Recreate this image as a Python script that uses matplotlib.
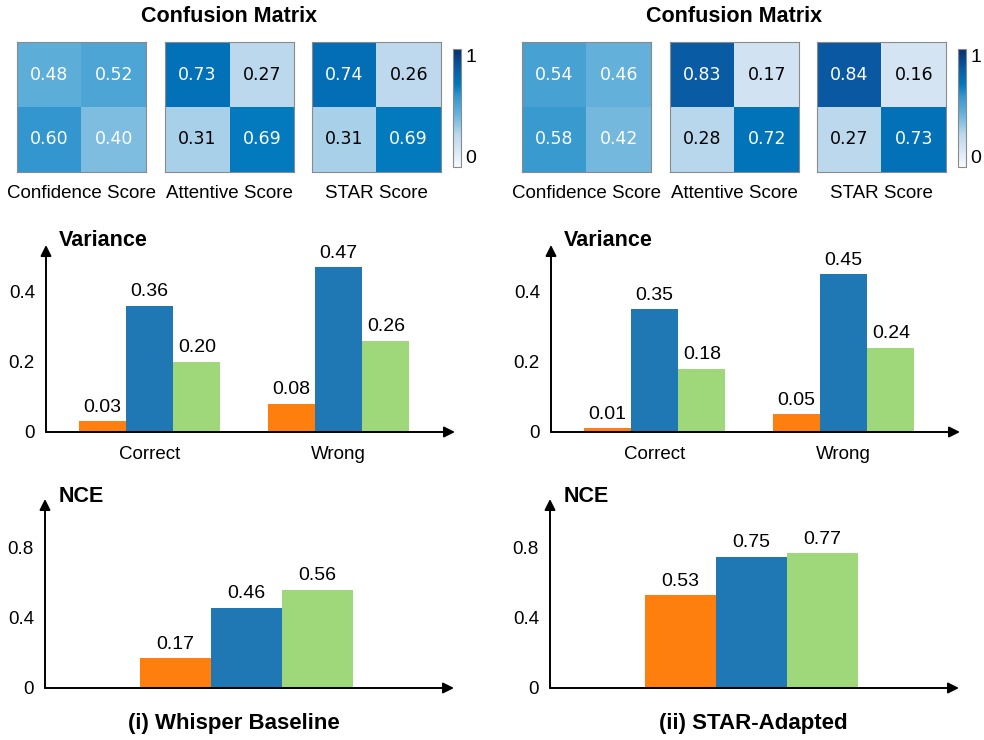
import numpy as np
import matplotlib
matplotlib.use('Agg')
import matplotlib.pyplot as plt
from matplotlib.colors import LinearSegmentedColormap

plt.rcParams['font.family'] = ['Liberation Sans', 'DejaVu Sans']

# ---- data ----
score_names = ['Confidence Score', 'Attentive Score', 'STAR Score']
panel_titles = ['(i) Whisper Baseline', '(ii) STAR-Adapted']

cm_baseline = [
    [[0.48, 0.52], [0.60, 0.40]],
    [[0.73, 0.27], [0.31, 0.69]],
    [[0.74, 0.26], [0.31, 0.69]],
]
cm_adapted = [
    [[0.54, 0.46], [0.58, 0.42]],
    [[0.83, 0.17], [0.28, 0.72]],
    [[0.84, 0.16], [0.27, 0.73]],
]

var_groups = ['Correct', 'Wrong']
var_baseline = {'Confidence': [0.03, 0.08], 'Attentive': [0.36, 0.47], 'STAR': [0.20, 0.26]}
var_adapted = {'Confidence': [0.01, 0.05], 'Attentive': [0.35, 0.45], 'STAR': [0.18, 0.24]}

nce_baseline = [0.17, 0.46, 0.56]
nce_adapted = [0.53, 0.75, 0.77]

bar_colors = ['#ff7f0e', '#1f77b4', '#9fd87b']

cmap = LinearSegmentedColormap.from_list('blu', [
    (0.00, (0.97, 0.98, 1.00)),
    (0.17, (0.82, 0.89, 0.95)),
    (0.27, (0.74, 0.85, 0.93)),
    (0.45, (0.40, 0.70, 0.86)),
    (0.60, (0.20, 0.59, 0.81)),
    (0.70, (0.00, 0.47, 0.74)),
    (0.84, (0.04, 0.35, 0.64)),
    (1.00, (0.03, 0.19, 0.42)),
])

W, H = 984, 740
fig = plt.figure(figsize=(W / 100, H / 100), dpi=100)


def box(x0, y0, x1, y1):
    # pixel box (top-left origin) -> figure fraction rect
    return [x0 / W, 1 - y1 / H, (x1 - x0) / W, (y1 - y0) / H]


def arrow_axes(ax):
    for s in ax.spines.values():
        s.set_visible(False)
    kw = dict(arrowstyle='-|>', color='black', lw=1.4, mutation_scale=16,
              shrinkA=0, shrinkB=0)
    ax.annotate('', xy=(1, 0), xytext=(0, 0), xycoords='axes fraction', arrowprops=kw)
    ax.annotate('', xy=(0, 1), xytext=(0, 0), xycoords='axes fraction', arrowprops=kw)
    ax.tick_params(length=0, labelsize=13.5, pad=8)


def bar_labels(ax, xs, vals):
    for x, v in zip(xs, vals):
        ax.text(x, v + ax.get_ylim()[1] * 0.03, '%.2f' % v, ha='center', va='bottom', fontsize=14)


for p, dx in enumerate([0, 505]):
    cms = cm_baseline if p == 0 else cm_adapted
    var = var_baseline if p == 0 else var_adapted
    nce = nce_baseline if p == 0 else nce_adapted

    # confusion matrices
    hx = [(17, 146), (165, 294), (312, 441)]
    for i, (a, b) in enumerate(hx):
        ax = fig.add_axes(box(a + dx, 42, b + dx, 172))
        m = np.array(cms[i])
        im = ax.imshow(m, cmap=cmap, vmin=0, vmax=1, aspect='auto')
        for r in range(2):
            for c in range(2):
                ax.text(c, r, '%.2f' % m[r, c], ha='center', va='center', fontsize=12.5,
                        family='DejaVu Sans', color='white' if m[r, c] > 0.35 else 'black')
        ax.set_xticks([])
        ax.set_yticks([])
        for s in ax.spines.values():
            s.set_color('#8a8a8a')
        fig.text((a + b) / 2 / W + dx / W, 1 - 193 / H, score_names[i], ha='center', va='center', fontsize=13.5)

    cax = fig.add_axes(box(453 + dx, 49, 461 + dx, 167))
    cb = fig.colorbar(im, cax=cax, ticks=[0, 1])
    cb.outline.set_edgecolor('#8a8a8a')
    cax.tick_params(length=0, labelsize=14, pad=3)
    cax.set_yticklabels(['0', '1'])
    labs = cax.get_yticklabels()
    labs[0].set_va('bottom')
    labs[1].set_va('top')

    fig.text((229 + dx) / W, 1 - 16 / H, 'Confusion Matrix', ha='center', va='center',
             fontsize=15.5, fontweight='bold')

    # variance
    ax = fig.add_axes(box(46 + dx, 245, 455 + dx, 432))
    x = np.arange(len(var_groups))
    w = 0.25
    ax.set_ylim(0, 0.534)
    for k, (name, vals) in enumerate(var.items()):
        xs = x + (k - 1) * w
        ax.bar(xs, vals, w, color=bar_colors[k])
        bar_labels(ax, xs, vals)
    ax.set_xlim(-0.548, 1.616)
    ax.set_ylim(0, 0.534)
    ax.set_yticks([0, 0.2, 0.4])
    ax.set_yticklabels(['0', '0.2', '0.4'])
    ax.set_xticks(x)
    ax.set_xticklabels(var_groups)
    arrow_axes(ax)
    ax.tick_params(axis='x', pad=10)
    fig.text((59 + dx) / W, 1 - 240 / H, 'Variance', ha='left', va='center',
             fontsize=15.5, fontweight='bold')

    # NCE
    ax = fig.add_axes(box(45 + dx, 499, 454 + dx, 688))
    xs = np.arange(3) - 1
    ax.set_ylim(0, 1.08)
    ax.bar(xs, nce, 1.0, color=bar_colors)
    ax.set_xlim(-2.84, 2.92)
    bar_labels(ax, xs, nce)
    ax.set_yticks([0, 0.4, 0.8])
    ax.set_yticklabels(['0', '0.4', '0.8'])
    ax.set_xticks([])
    arrow_axes(ax)
    fig.text((59 + dx) / W, 1 - 497 / H, 'NCE', ha='left', va='center',
             fontsize=15.5, fontweight='bold')

    fig.text((234 + dx + (14 if p else 0)) / W, 1 - 723 / H, panel_titles[p], ha='center', va='center',
             fontsize=16, fontweight='bold')

fig.savefig('out.png', dpi=100)
